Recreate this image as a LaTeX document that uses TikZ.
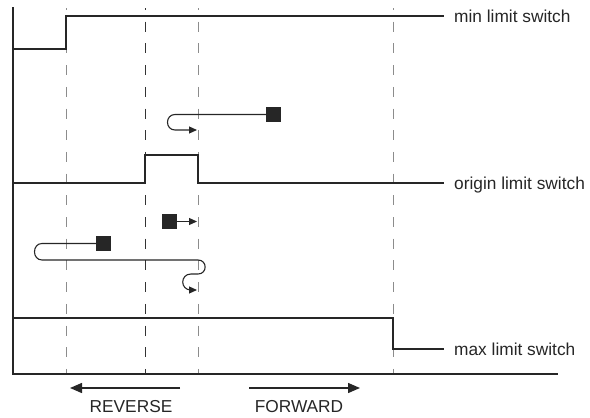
\documentclass[tikz,border=0pt]{standalone}
\usepackage{fontspec}
\setmainfont{Liberation Sans}
\usetikzlibrary{arrows.meta}
\begin{document}
\begin{tikzpicture}[x=1pt,y=-1pt,
  sig/.style={line width=1.3pt, line join=miter, color=black!85},
  axis/.style={line width=1.6pt, color=black!85},
  grid/.style={dash pattern=on 10pt off 11.7pt, dash phase=8pt, line width=0.9pt, color=black!45},
  gridd/.style={dash pattern=on 10pt off 11.7pt, dash phase=8pt, line width=0.9pt, color=black!80},
  blk/.style={fill=black!85, minimum size=15pt, inner sep=0pt, draw=none},
  lbl/.style={anchor=base west, font=\fontsize{17.3}{20}\selectfont, inner sep=0pt, text=black!85},
  dirlbl/.style={anchor=center, font=\fontsize{17.3}{20}\selectfont, inner sep=0pt, text=black!85},
  big/.style={-{Triangle[length=12pt,width=10pt]}, line width=1.4pt, color=black!85},
  small/.style={-{Triangle[length=8pt,width=7pt]}, line width=1.1pt, color=black!85},
]
\useasboundingbox (0,0) rectangle (590,418);
% grid lines
\coordinate (g1t) at (66,8);   \coordinate (g1b) at (66,374);
\coordinate (g2t) at (145,8);  \coordinate (g2b) at (145,374);
\coordinate (g3t) at (198,8);  \coordinate (g3b) at (198,374);
\coordinate (g4t) at (393,8);  \coordinate (g4b) at (393,374);
\draw[grid] (g1t) -- (g1b);
\draw[gridd] (g2t) -- (g2b);
\draw[grid] (g3t) -- (g3b);
\draw[grid] (g4t) -- (g4b);
% axes
\coordinate (ax0) at (13,7);
\coordinate (ax1) at (13,374);
\coordinate (ax2) at (558,374);
\draw[axis] (ax0) -- (ax1) -- (ax2);
% labels
\node[lbl] (lmin) at (454,22) {min limit switch};
\node[lbl] (lorg) at (454,189) {origin limit switch};
\node[lbl] (lmax) at (454,355) {max limit switch};
% waveforms
\draw[sig] (13,49) -- (66,49) -- (66,16) -- (444,16);
\draw[sig] (13,183) -- (145,183) -- (145,155) -- (198,155) -- (198,183) -- (444,183);
\draw[sig] (13,318) -- (393,318) -- (393,349) -- (444,349);
% squares
\node[blk] (s1) at (273.5,114.5) {};
\node[blk] (s2) at (169.5,221.5) {};
\node[blk] (s3) at (103.5,243.5) {};
\coordinate (e1) at (197,130);
\coordinate (e2) at (197,221.5);
\coordinate (e3) at (197,290);
\draw[small] (s1.west) -- (175,114.5) .. controls (165,114.5) and (165,130) .. (175,130) -- (e1);
\draw[small] (s2.east) -- (e2);
\draw[small] (s3.west) -- (42,243.5) .. controls (32,243.5) and (32,260) .. (42,260) -- (198,260)
  .. controls (207.5,260) and (207.5,274) .. (198,274) -- (191,274)
  .. controls (180,274) and (180,290) .. (191,290) -- (e3);
% direction arrows
\coordinate (r0) at (180,388); \coordinate (r1) at (70,388);
\coordinate (f0) at (249,388); \coordinate (f1) at (360,388);
\draw[big] (r0) -- (r1);
\draw[big] (f0) -- (f1);
\node[dirlbl] (rev) at (131,407) {REVERSE};
\node[dirlbl] (fwd) at (299,407) {FORWARD};
\end{tikzpicture}
\end{document}
